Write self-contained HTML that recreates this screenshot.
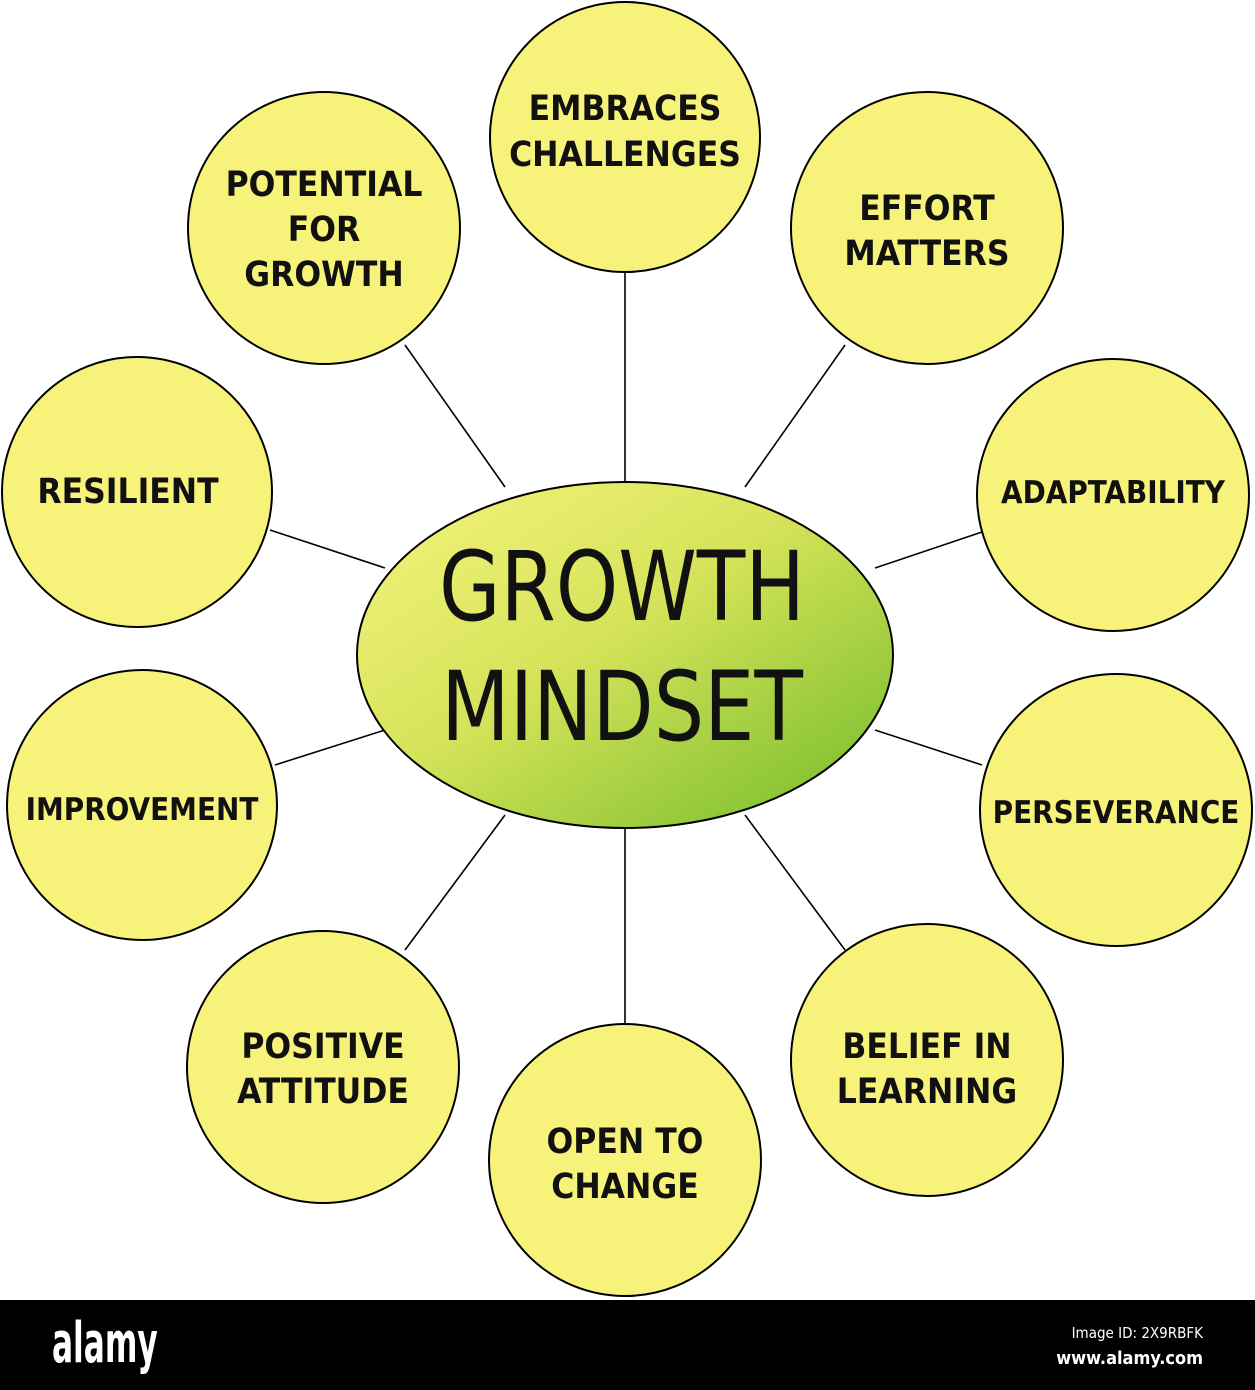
<!DOCTYPE html>
<html><head><meta charset="utf-8"><style>
html,body{margin:0;padding:0;background:#fff;width:1255px;height:1390px;overflow:hidden}
</style></head><body>
<svg width="1255" height="1390" viewBox="0 0 1255 1390" xmlns="http://www.w3.org/2000/svg">
<defs>
<linearGradient id="g" x1="0" y1="0" x2="1" y2="1">
<stop offset="0" stop-color="#f6f47e"/>
<stop offset="0.45" stop-color="#d6e35a"/>
<stop offset="1" stop-color="#6fbb28"/>
</linearGradient>
</defs>
<g stroke="#000" stroke-width="1.6">
<line x1="625" y1="273" x2="625" y2="485"/>
<line x1="405" y1="345" x2="505" y2="487"/>
<line x1="845" y1="345" x2="745" y2="487"/>
<line x1="270" y1="530" x2="385" y2="568"/>
<line x1="982" y1="532" x2="875" y2="568"/>
<line x1="275" y1="765" x2="385" y2="730"/>
<line x1="982" y1="765" x2="875" y2="730"/>
<line x1="405" y1="950" x2="505" y2="815"/>
<line x1="845" y1="950" x2="745" y2="815"/>
<line x1="625" y1="828" x2="625" y2="1025"/>
</g>
<g fill="#f7f37a" stroke="#000" stroke-width="2">
<circle cx="625" cy="137" r="135"/>
<circle cx="324" cy="228" r="136"/>
<circle cx="927" cy="228" r="136"/>
<circle cx="137" cy="492" r="135"/>
<circle cx="1113" cy="495" r="136"/>
<circle cx="142" cy="805" r="135"/>
<circle cx="1116" cy="810" r="136"/>
<circle cx="323" cy="1067" r="136"/>
<circle cx="625" cy="1160" r="136"/>
<circle cx="927" cy="1060" r="136"/>
</g>
<ellipse cx="625" cy="655" rx="268" ry="173" fill="url(#g)" stroke="#000" stroke-width="2"/>
<g font-family="DejaVu Sans Condensed, Liberation Sans Narrow, sans-serif" font-weight="bold" font-size="35" text-anchor="middle" fill="#111">
<text x="625" y="120">EMBRACES</text><text x="625" y="166">CHALLENGES</text>
<text x="324" y="196">POTENTIAL</text><text x="324" y="241">FOR</text><text x="324" y="286">GROWTH</text>
<text x="927" y="220">EFFORT</text><text x="927" y="265">MATTERS</text>
<text x="128" y="503">RESILIENT</text>
<text x="1113" y="503" font-size="31">ADAPTABILITY</text>
<text x="142" y="820" font-size="31">IMPROVEMENT</text>
<text x="1116" y="823" font-size="31">PERSEVERANCE</text>
<text x="323" y="1058">POSITIVE</text><text x="323" y="1103">ATTITUDE</text>
<text x="625" y="1153">OPEN TO</text><text x="625" y="1198">CHANGE</text>
<text x="927" y="1058">BELIEF IN</text><text x="927" y="1103">LEARNING</text>
<text x="622" y="620" font-size="96" font-weight="normal" transform="translate(622,0) scale(0.92,1) translate(-622,0)">GROWTH</text>
<text x="622" y="740" font-size="96" font-weight="normal" transform="translate(622,0) scale(0.92,1) translate(-622,0)">MINDSET</text>
</g>
<rect x="0" y="1300" width="1255" height="90" fill="#000"/>
<text x="52" y="1362" font-family="DejaVu Sans Condensed, sans-serif" font-weight="bold" font-size="56" fill="#fff" transform="translate(52,0) scale(0.62,1) translate(-52,0)">alamy</text>
<text x="1203" y="1338" text-anchor="end" font-family="DejaVu Sans Condensed, sans-serif" font-size="15" fill="#fff">Image ID: 2X9RBFK</text>
<text x="1203" y="1364" text-anchor="end" font-family="DejaVu Sans Condensed, sans-serif" font-weight="bold" font-size="18" fill="#fff">www.alamy.com</text>
</svg>
</body></html>
